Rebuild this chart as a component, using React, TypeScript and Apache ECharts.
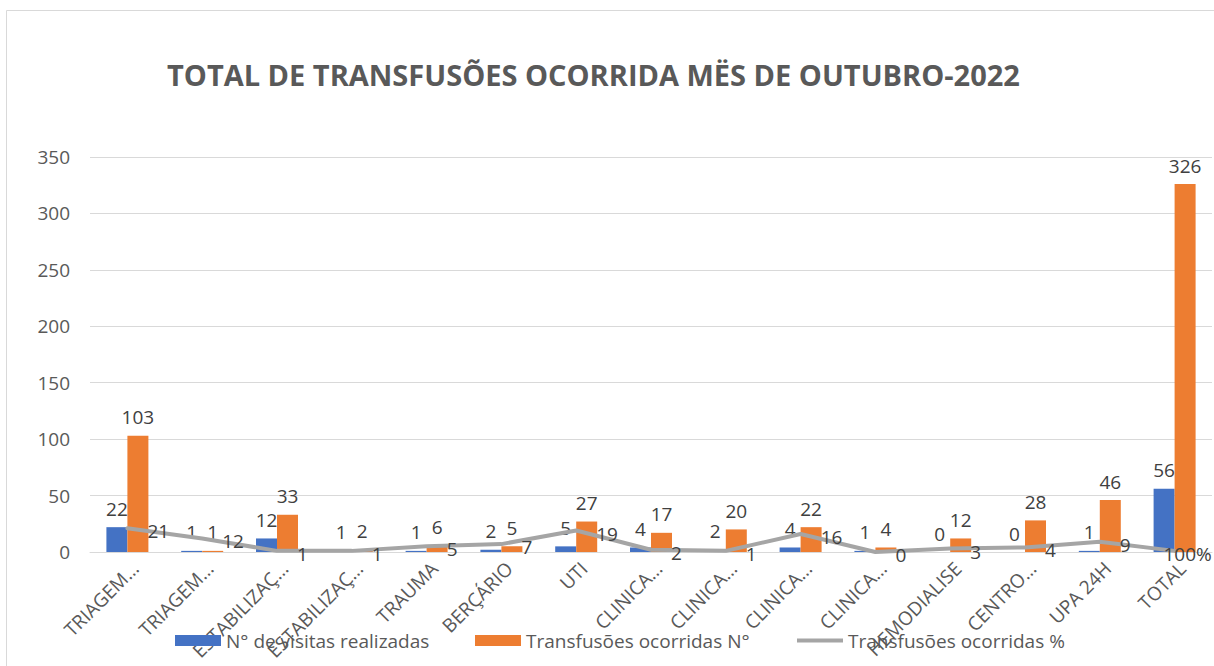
import React, { useEffect, useRef } from "react";
import * as echarts from "echarts";

const titleText = "TOTAL DE TRANSFUSÕES OCORRIDA MËS DE OUTUBRO-2022";
const categories = [
  "TRIAGEM…",
  "TRIAGEM…",
  "ESTABILIZAÇ…",
  "ESTABILIZAÇ…",
  "TRAUMA",
  "BERÇÁRIO",
  "UTI",
  "CLINICA…",
  "CLINICA…",
  "CLINICA…",
  "CLINICA…",
  "HEMODIALISE",
  "CENTRO…",
  "UPA 24H",
  "TOTAL",
];
const visitas = [22, 1, 12, 1, 1, 2, 5, 4, 2, 4, 1, 0, 0, 1, 56];
const transfNum = [103, 1, 33, 2, 6, 5, 27, 17, 20, 22, 4, 12, 28, 46, 326];
const transfPct = [21, 12, 1, 1, 5, 7, 19, 2, 1, 16, 0, 3, 4, 9, 1];
const transfPctLabels = ["21", "12", "1", "1", "5", "7", "19", "2", "1", "16", "0", "3", "4", "9", "100%"];
const seriesNames = ["N° de visitas realizadas", "Transfusões ocorridas N°", "Transfusões ocorridas %"];
const yTicks = { min: 0, max: 350, interval: 50 };

const FONT = "'Open Sans', 'Noto Sans', sans-serif";
const LINE_ICON = "path://M0,0 L0.01,0 M0,3.5 L46,3.5 L46,7.5 L0,7.5 Z M0,11 L0.01,11";
const LEGEND_LEFTS = [170, 470, 792];

export default function App() {
  const ref = useRef<HTMLDivElement>(null);
  useEffect(() => {
    if (!ref.current) return;
    const chart = echarts.init(ref.current, undefined, { renderer: "svg" });
    const lastIdx = transfPct.length - 1;
    const barLabel = {
      show: true,
      position: "top",
      distance: 9,
      fontFamily: FONT,
      fontSize: 19,
      color: "#404040",
    };
    const legendIcons = ["rect", "rect", LINE_ICON];
    chart.setOption({
      animation: false,
      backgroundColor: "#ffffff",
      textStyle: { fontFamily: FONT },
      title: {
        text: titleText,
        left: 162,
        top: 55,
        textStyle: { fontFamily: FONT, fontSize: 29, fontWeight: "bold", color: "#595959" },
      },
      graphic: [
        {
          type: "rect",
          shape: { x: 6.5, y: 10.5, width: 1300, height: 800 },
          style: { fill: "none", stroke: "#D9D9D9", lineWidth: 1 },
          silent: true,
          z: -1,
        },
      ],
      legend: seriesNames.map((name, i) => ({
        left: LEGEND_LEFTS[i],
        top: 626,
        itemWidth: 46,
        itemHeight: 11,
        itemGap: 6,
        textStyle: { fontFamily: FONT, fontSize: 19, color: "#595959" },
        data: [
          i === 2
            ? { name, icon: legendIcons[i], itemStyle: { color: "#A5A5A5" } }
            : { name, icon: legendIcons[i] },
        ],
      })),
      grid: { left: 90, right: 2, top: 157, bottom: 114, containLabel: false },
      xAxis: {
        type: "category",
        data: categories,
        axisLine: { show: true, lineStyle: { color: "#D9D9D9" } },
        axisTick: { show: false },
        axisLabel: {
          interval: 0,
          rotate: 45,
          margin: 21,
          padding: [0, -11, 0, 0],
          fontFamily: FONT,
          fontSize: 19,
          color: "#595959",
        },
      },
      yAxis: {
        type: "value",
        min: yTicks.min,
        max: yTicks.max,
        interval: yTicks.interval,
        axisLine: { show: false },
        axisTick: { show: false },
        axisLabel: { margin: 20, fontFamily: FONT, fontSize: 19, color: "#595959" },
        splitLine: { lineStyle: { color: "#D9D9D9", width: 1 } },
      },
      series: [
        {
          name: seriesNames[0],
          type: "bar",
          data: visitas,
          barWidth: 21,
          barGap: "0%",
          itemStyle: { color: "#4472C4" },
          label: barLabel,
        },
        {
          name: seriesNames[1],
          type: "bar",
          data: transfNum,
          barWidth: 21,
          barGap: "0%",
          itemStyle: { color: "#ED7D31" },
          label: barLabel,
        },
        {
          name: seriesNames[2],
          type: "line",
          data: transfPct.map((v, i) =>
            i === lastIdx
              ? { value: v, label: { position: "inside", offset: [13, 3] } }
              : v
          ),
          symbol: "circle",
          symbolSize: 0.1,
          showSymbol: true,
          lineStyle: { color: "#A5A5A5", width: 4, join: "round", cap: "round" },
          itemStyle: { color: "#A5A5A5" },
          z: 3,
          label: {
            show: true,
            position: "right",
            distance: 20,
            offset: [0, 3],
            fontFamily: FONT,
            fontSize: 19,
            color: "#404040",
            formatter: (p: any) => transfPctLabels[p.dataIndex],
          },
        },
      ],
    });
    return () => chart.dispose();
  }, []);
  return (
    <div
      ref={ref}
      style={{ position: "fixed", left: 0, top: 0, width: 1214, height: 666, background: "#fff" }}
    />
  );
}
